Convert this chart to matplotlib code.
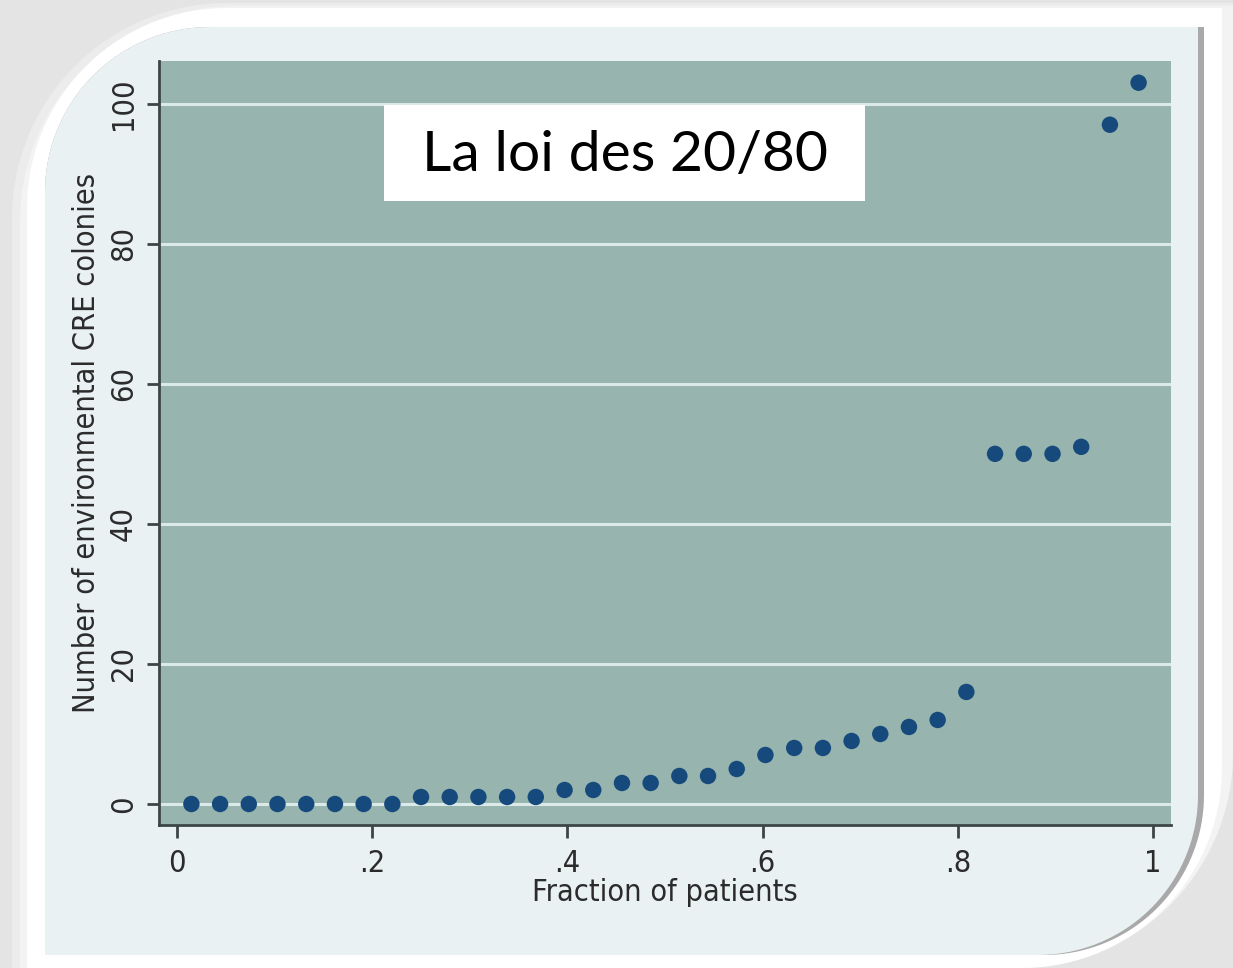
import numpy as np
import matplotlib
matplotlib.use("Agg")
import matplotlib.pyplot as plt
from matplotlib.patches import Polygon, Rectangle
from matplotlib.transforms import Affine2D

# ---------------- data ----------------
fraction = [0.0147, 0.0441, 0.0735, 0.1029, 0.1324, 0.1618, 0.1912, 0.2206,
            0.2500, 0.2794, 0.3088, 0.3382, 0.3676, 0.3971, 0.4265, 0.4559,
            0.4853, 0.5147, 0.5441, 0.5735, 0.6029, 0.6324, 0.6618, 0.6912,
            0.7206, 0.7500, 0.7794, 0.8088, 0.8382, 0.8676, 0.8971, 0.9265,
            0.9559, 0.9853]
colonies = [0, 0, 0, 0, 0, 0, 0, 0,
            1, 1, 1, 1, 1, 2, 2, 3,
            3, 4, 4, 5, 7, 8, 8, 9,
            10, 11, 12, 16, 50, 50, 50, 51,
            97, 103]
xticks = [0, 0.2, 0.4, 0.6, 0.8, 1.0]
xticklabels = ["0", ".2", ".4", ".6", ".8", "1"]
yticks = [0, 20, 40, 60, 80, 100]
yticklabels = ["0", "20", "40", "60", "80", "100"]
xlabel = "Fraction of patients"
ylabel = "Number of environmental CRE colonies"
title = "La loi des 20/80"

W, H = 1233, 968
fig = plt.figure(figsize=(W / 100, H / 100), dpi=100, facecolor="#e4e4e4")

pix = Affine2D().scale(1.0 / W, -1.0 / H).translate(0, 1) + fig.transFigure


def rounded(x0, y0, x1, y1, r_tl, r_br, n=40):
    pts = []
    for t in np.linspace(np.pi, 1.5 * np.pi, n):
        pts.append((x0 + r_tl + r_tl * np.cos(t), y0 + r_tl + r_tl * np.sin(t)))
    pts.append((x1, y0))
    for t in np.linspace(0, 0.5 * np.pi, n):
        pts.append((x1 - r_br + r_br * np.cos(t), y1 - r_br + r_br * np.sin(t)))
    pts.append((x0, y1))
    return pts


for k, c in enumerate(["#ececec", "#f3f3f3"]):
    fig.patches.append(Polygon(rounded(12 + 8 * k, 3 + 3 * k, 1233, 968, 215, 215),
                               closed=True, transform=pix, facecolor=c,
                               edgecolor="none", zorder=0))
fig.patches.append(Polygon(rounded(27, 8, 1222, 968, 200, 200), closed=True,
                           transform=pix, facecolor="white", edgecolor="none",
                           zorder=1))
fig.patches.append(Polygon(rounded(45, 27, 1204, 955, 165, 160), closed=True,
                           transform=pix, facecolor="#a9a9a9", edgecolor="none",
                           zorder=2))
fig.patches.append(Polygon(rounded(45, 27, 1198, 955, 165, 160), closed=True,
                           transform=pix, facecolor="#e9f1f3", edgecolor="none",
                           zorder=3))

# ---------------- axes ----------------
L, R, T, B = 159, 1171, 61, 825
ax = fig.add_axes([L / W, 1 - B / H, (R - L) / W, (B - T) / H], zorder=5)
ax.set_facecolor("#97b5ae")
ax.scatter(fraction, colonies, s=140, color="#174a7c", edgecolors="none",
           zorder=4)
ax.set_xlim(-0.0185, 1.0185)
ax.set_ylim(-3.0, 106.1)
ax.set_yticks(yticks)
ax.set_xticks(xticks)
ax.grid(axis="y", color="#dce9e9", linewidth=2.2, zorder=1)
ax.set_axisbelow(True)
for s in ["top", "right"]:
    ax.spines[s].set_visible(False)
for s in ["left", "bottom"]:
    ax.spines[s].set_color("#3c4646")
    ax.spines[s].set_linewidth(2.0)

tfont = dict(family=["DejaVu Sans"], stretch="condensed", size=22,
             color="#2b2b2b")
ax.set_xticklabels(xticklabels, **tfont)
ax.set_yticklabels(yticklabels, rotation=90, va="center", **tfont)
ax.tick_params(axis="both", length=9, width=2, color="#3c4646", pad=8)
ax.tick_params(axis="y", pad=6)
ax.set_xlabel(xlabel, labelpad=0, **tfont)
ax.set_ylabel(ylabel, labelpad=6, **tfont)

# title box
fig.patches.append(Rectangle((384, 105), 481, 96, transform=pix,
                             facecolor="white", edgecolor="none", zorder=6))
fig.text(625 / W, 1 - 155 / H, title, transform=fig.transFigure,
         ha="center", va="center", fontsize=41, family="Lato", color="black",
         zorder=7)

fig.savefig("out.png", dpi=100, facecolor=fig.get_facecolor())
